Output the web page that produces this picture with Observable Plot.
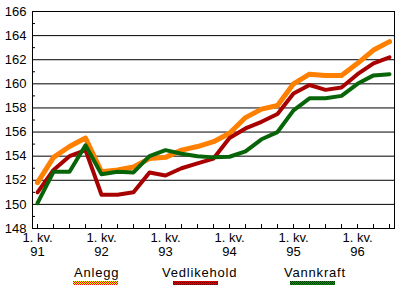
<!DOCTYPE html>
<html><head><meta charset="utf-8">
<script src="https://cdn.jsdelivr.net/npm/d3@7"></script>
<script src="https://cdn.jsdelivr.net/npm/@observablehq/plot@0.6"></script>
<style>
body{margin:0;background:#fff;font-family:"Liberation Sans",Arial,sans-serif;}
#wrap{position:relative;width:400px;height:292px;overflow:hidden;background:#fff;}
#wrap svg{position:absolute;left:0;top:0;}
.leg{position:absolute;font-size:13px;letter-spacing:0.8px;line-height:13px;color:#000;white-space:nowrap;}
.sw{position:absolute;height:4px;width:45px;}
</style></head><body><div id="wrap"></div>
<script>
// Data
const quarters = [
  "1. kv. 91","2. kv. 91","3. kv. 91","4. kv. 91",
  "1. kv. 92","2. kv. 92","3. kv. 92","4. kv. 92",
  "1. kv. 93","2. kv. 93","3. kv. 93","4. kv. 93",
  "1. kv. 94","2. kv. 94","3. kv. 94","4. kv. 94",
  "1. kv. 95","2. kv. 95","3. kv. 95","4. kv. 95",
  "1. kv. 96","2. kv. 96","3. kv. 96"
];
const anlegg      = [151.8,153.9,154.8,155.5,152.7,152.85,153.1,153.8,153.9,154.5,154.8,155.2,155.9,157.2,157.9,158.2,160.0,160.8,160.7,160.7,161.7,162.8,163.5];
const vedlikehold = [151.0,152.85,154.0,154.5,150.8,150.8,151.0,152.65,152.4,153.0,153.4,153.8,155.5,156.3,156.85,157.5,159.2,159.9,159.5,159.7,160.8,161.7,162.2];
const vannkraft   = [150.1,152.7,152.7,154.9,152.5,152.7,152.65,154.0,154.5,154.2,154.0,153.9,153.95,154.4,155.4,156.0,157.8,158.8,158.8,159.0,160.0,160.7,160.8];
const seriesNames = ["Anlegg","Vedlikehold","Vannkraft"];
const yTicks = [148,150,152,154,156,158,160,162,164,166];
const yMinor = [149,151,153,155,157,159,161,163,165];

const n = quarters.length;
const idx = d3.range(n);
const yearIdx = idx.filter(i => quarters[i].startsWith("1."));
const rows = vals => idx.map(i => ({i, v: vals[i]}));

const chart = Plot.plot({
  width: 400, height: 260,
  marginLeft: 32, marginRight: 6, marginTop: 11, marginBottom: 32,
  style: {fontFamily: "Liberation Sans, Arial, sans-serif", fontSize: "13px", color: "#000", background: "#fff", overflow: "visible"},
  x: {type: "linear", domain: [-0.3125, n - 1 + 0.3125], label: null},
  y: {domain: [148, 166], label: null},
  marks: [
    Plot.ruleY(yTicks, {stroke: "#000", strokeWidth: 1}),
    Plot.axisY({ticks: yTicks, tickSize: 0, tickPadding: 6, tickFormat: d => String(d), fontSize: 13, label: null}),
    Plot.axisY({ticks: yMinor, tickSize: -3, tickFormat: () => "", label: null}),
    Plot.axisX({ticks: idx, tickSize: -4, tickFormat: () => "", label: null}),
    Plot.axisX({ticks: yearIdx, tickSize: 0, tickPadding: 3, lineHeight: 1.1, fontSize: 13,
      tickFormat: i => { const p = quarters[i].split(" "); return p[0] + " " + p[1] + "\n" + p[2]; }, label: null}),
    Plot.line(rows(anlegg), {x: "i", y: "v", stroke: "url(#patA)", strokeWidth: 5}),
    Plot.line(rows(vedlikehold), {x: "i", y: "v", stroke: "url(#patV)", strokeWidth: 4}),
    Plot.line(rows(vannkraft), {x: "i", y: "v", stroke: "url(#patK)", strokeWidth: 4}),
    Plot.frame({stroke: "#000"})
  ]
});

const svg = d3.select(chart);
const defs = svg.insert("defs", ":first-child");
function checker(id, a, b) {
  const p = defs.append("pattern").attr("id", id).attr("patternUnits", "userSpaceOnUse")
    .attr("width", 2).attr("height", 2);
  p.append("rect").attr("width", 2).attr("height", 2).attr("fill", a);
  p.append("rect").attr("x", 1).attr("y", 0).attr("width", 1).attr("height", 1).attr("fill", b);
  p.append("rect").attr("x", 0).attr("y", 1).attr("width", 1).attr("height", 1).attr("fill", b);
}
checker("patA", "#ffff00", "#ff0000");
checker("patV", "#e00000", "#700000");
checker("patK", "#109010", "#003800");

const wrap = document.getElementById("wrap");
wrap.appendChild(chart);

const legendItems = [
  {name: seriesNames[0], tx: 74, sx: 73, bg: "repeating-conic-gradient(#ffff00 0 25%, #ff0000 0 50%) 0 0/2px 2px"},
  {name: seriesNames[1], tx: 162, sx: 173, bg: "repeating-conic-gradient(#e00000 0 25%, #700000 0 50%) 0 0/2px 2px"},
  {name: seriesNames[2], tx: 284, sx: 290, bg: "repeating-conic-gradient(#109010 0 25%, #003800 0 50%) 0 0/2px 2px"}
];
for (const it of legendItems) {
  const t = document.createElement("div");
  t.className = "leg"; t.textContent = it.name;
  t.style.left = it.tx + "px"; t.style.top = "266px";
  wrap.appendChild(t);
  const s = document.createElement("div");
  s.className = "sw"; s.style.left = it.sx + "px"; s.style.top = "281px";
  s.style.background = it.bg;
  wrap.appendChild(s);
}
</script></body></html>
